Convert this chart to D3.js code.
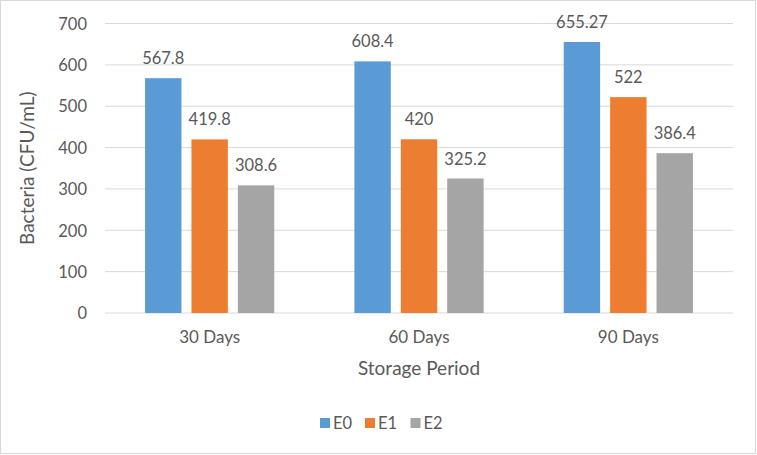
<!DOCTYPE html>
<html><head><meta charset="utf-8">
<script src="https://cdn.jsdelivr.net/npm/d3@7"></script>
<style>body{margin:0;background:#fff;} text{font-family:Lato,"Open Sans",sans-serif;fill:#595959;}</style>
</head><body>
<svg id="c" width="757" height="455"></svg>
<script>
const categories = ["30 Days", "60 Days", "90 Days"];
const seriesNames = ["E0", "E1", "E2"];
const E0 = [567.8, 608.4, 655.27];
const E1 = [419.8, 420, 522];
const E2 = [308.6, 325.2, 386.4];
const yTicks = [0, 100, 200, 300, 400, 500, 600, 700];
const colors = ["#5B9BD5", "#ED7D31", "#A5A5A5"];
const values = [E0, E1, E2];

const svg = d3.select("#c");
svg.append("rect").attr("x",0.5).attr("y",0.5).attr("width",755).attr("height",453)
  .attr("fill","#fff").attr("stroke","#d9d9d9");

const L=105, R=733, T=23.5, B=313;
const y = d3.scaleLinear().domain([0,700]).range([B,T]);
const x0 = d3.scaleBand().domain(categories).range([L,R]).padding(0);
const gw = 139.2;
const x1 = d3.scaleBand().domain(seriesNames).range([0,gw]).paddingInner(10/46.4).paddingOuter(5/46.4);

// grid
svg.append("g").selectAll("line").data(yTicks).join("line")
  .attr("x1",L).attr("x2",R).attr("y1",d=>y(d)).attr("y2",d=>y(d))
  .attr("stroke","#d9d9d9").attr("stroke-width",1);

// y axis labels
const yAxis = d3.axisLeft(y).tickValues(yTicks).tickSize(0).tickPadding(0);
const ya = svg.append("g").attr("transform",`translate(${87},0)`).call(yAxis);
ya.select(".domain").remove();
ya.selectAll("text").style("font-size","16.5px").attr("fill","#595959").attr("dy","0.35em");

// x axis labels
const xAxis = d3.axisBottom(x0).tickSize(0).tickPadding(0);
const xa = svg.append("g").attr("transform",`translate(0,${B})`).call(xAxis);
xa.select(".domain").remove();
xa.selectAll("text").style("font-size","17px").attr("fill","#595959").attr("dy",0).attr("y",30);

// bars
const groups = svg.append("g").selectAll("g").data(categories).join("g")
  .attr("transform",c=>`translate(${x0(c)+x0.bandwidth()/2-gw/2},0)`);
groups.each(function(c,ci){
  const g = d3.select(this);
  const d = seriesNames.map((s,si)=>({s,si,v:values[si][ci]}));
  g.selectAll("rect").data(d).join("rect")
    .attr("x",e=>x1(e.s)).attr("width",x1.bandwidth())
    .attr("y",e=>y(e.v)).attr("height",e=>B-y(e.v))
    .attr("fill",e=>colors[e.si]);
  g.selectAll("text").data(d).join("text")
    .attr("x",e=>x1(e.s)+x1.bandwidth()/2).attr("y",e=>y(e.v)-14)
    .attr("text-anchor","middle").style("font-size","16.5px").text(e=>String(e.v));
});

// axis titles
svg.append("text").attr("transform",`translate(34,${(T+B)/2}) rotate(-90)`)
  .attr("text-anchor","middle").style("font-size","19px").text("Bacteria (CFU/mL)");
svg.append("text").attr("x",(L+R)/2).attr("y",375).attr("text-anchor","middle")
  .style("font-size","19px").text("Storage Period");

// legend
const lx = [320, 365, 410.5];
const lg = svg.append("g").selectAll("g").data(seriesNames).join("g")
  .attr("transform",(d,i)=>`translate(${lx[i]},418)`);
lg.append("rect").attr("width",10).attr("height",10).attr("fill",(d,i)=>colors[i]);
lg.append("text").attr("x",13).attr("y",10.5).style("font-size","16.5px").text(d=>d);
</script>
</body></html>
